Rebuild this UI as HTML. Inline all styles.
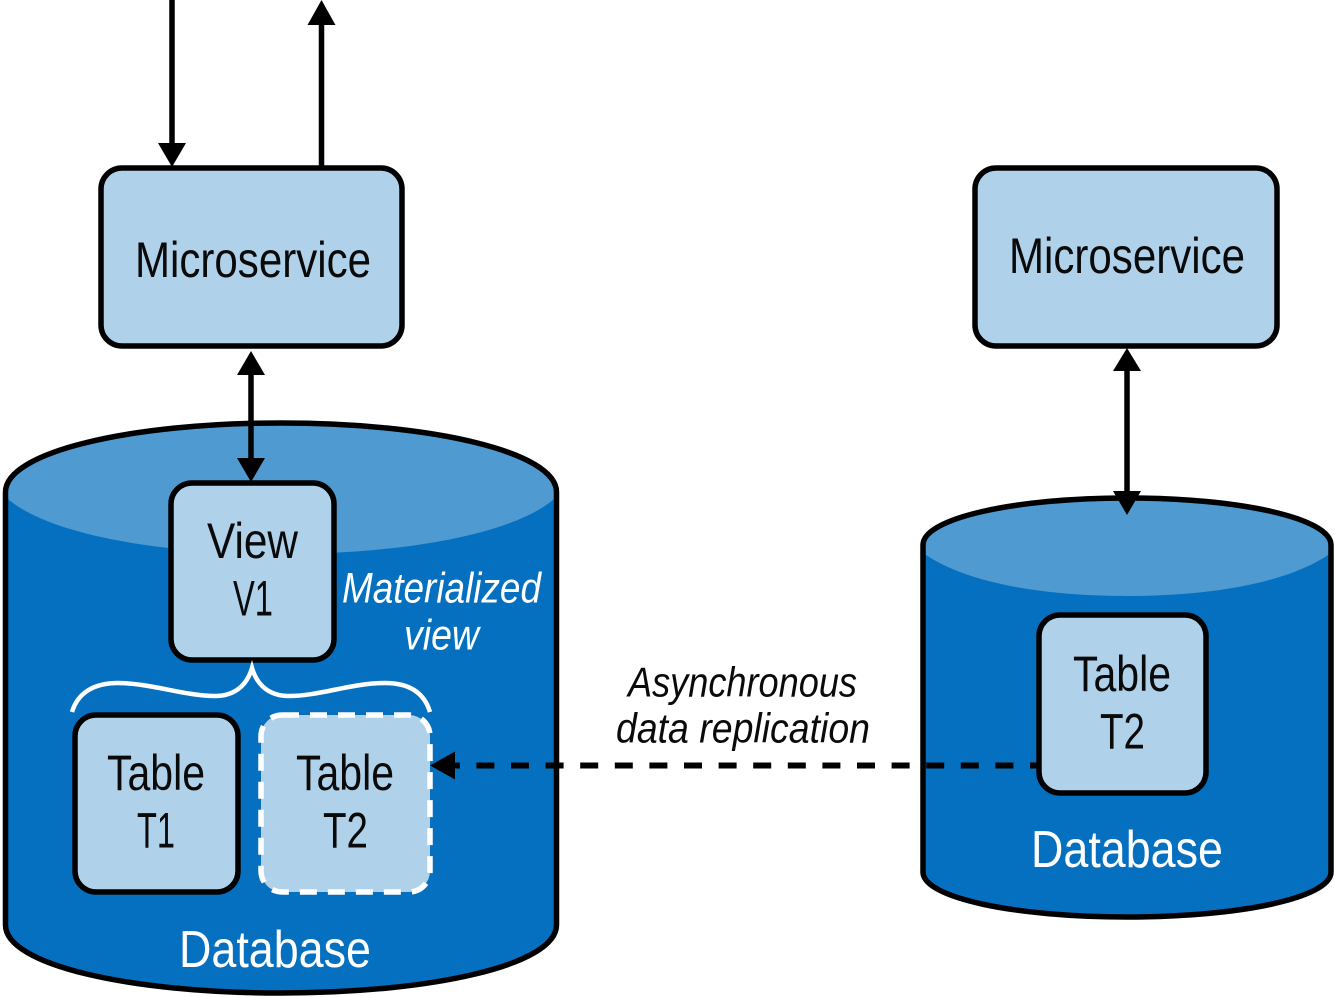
<!DOCTYPE html>
<html><head><meta charset="utf-8"><style>
html,body{margin:0;padding:0;background:#fff;width:1334px;height:997px;overflow:hidden}
svg{display:block}
text{font-family:"Liberation Sans",sans-serif}
</style></head><body>
<svg width="1334" height="997" viewBox="0 0 1334 997" xmlns="http://www.w3.org/2000/svg">
<!-- left cylinder -->
<path d="M5.500 492 C5.500 452 130 423 281 423 C432 423 556.500 452 556.500 492 V925 C556.500 965 432 993 281 993 C130 993 5.500 965 5.500 925 Z" fill="#0670c0"/>
<path d="M5.500 492 C5.500 452 130 423 281 423 C432 423 556.500 452 556.500 492 L556.500 497 C515 535 400 554 281 554 C162 554 47 535 5.500 497 Z" fill="#4f9ad0"/>
<path d="M5.500 492 C5.500 452 130 423 281 423 C432 423 556.500 452 556.500 492 V925 C556.500 965 432 993 281 993 C130 993 5.500 965 5.500 925 Z" fill="none" stroke="#000" stroke-width="5.5"/>
<!-- right cylinder -->
<path d="M923 545 C923 518 1015 498 1127 498 C1239 498 1331 518 1331 545 V872 C1331 898 1239 917 1127 917 C1015 917 923 898 923 872 Z" fill="#0670c0"/>
<path d="M923 545 C923 518 1015 498 1127 498 C1239 498 1331 518 1331 545 L1331 553 C1290 582 1215 596 1127 596 C1039 596 964 582 923 553 Z" fill="#4f9ad0"/>
<path d="M923 545 C923 518 1015 498 1127 498 C1239 498 1331 518 1331 545 V872 C1331 898 1239 917 1127 917 C1015 917 923 898 923 872 Z" fill="none" stroke="#000" stroke-width="5.5"/>
<!-- arrows -->
<g stroke="#000" stroke-width="5.5" fill="none">
<line x1="172" y1="0" x2="172" y2="150"/>
<line x1="321.500" y1="22" x2="321.500" y2="166"/>
<line x1="251" y1="370" x2="251" y2="462"/>
<line x1="1127" y1="368" x2="1127" y2="495"/>
<line x1="1048" y1="765.500" x2="440" y2="765.500" stroke-width="6" stroke-dasharray="18 16.600"/>
</g>
<g fill="#000">
<polygon points="158,143 186,143 172,167"/>
<polygon points="307.500,25 335.500,25 321.500,0"/>
<polygon points="237,375 265,375 251,351"/>
<polygon points="237,458 265,458 251,482"/>
<polygon points="1113,371 1141,371 1127,348"/>
<polygon points="1113,491 1141,491 1127,515"/>
<polygon points="430,765.500 455,751.500 455,779.500"/>
</g>
<!-- boxes -->
<g fill="#b0d1ea" stroke="#000" stroke-width="5.5">
<rect x="101" y="168" width="301" height="178" rx="21"/>
<rect x="975" y="168" width="302" height="178" rx="21"/>
<rect x="171" y="483" width="163" height="177" rx="21"/>
<rect x="75" y="715" width="163" height="177" rx="21"/>
<rect x="1039" y="615" width="167" height="178" rx="21"/>
</g>
<rect x="261" y="715" width="169" height="177" rx="21" fill="#b0d1ea" stroke="#fff" stroke-width="5.5" stroke-dasharray="17 11"/>
<!-- brace -->
<path d="M72 712 C78 692 95 683 118 683 C150 683 185 696 215 696 C235 696 247 685 252 668 C257 685 269 696 289 696 C319 696 352 683 385 683 C408 683 424 692 430 712" fill="none" stroke="#fff" stroke-width="4.500"/>
<!-- text -->
<g font-size="50" fill="#0a0a0a">
<text x="135" y="277" textLength="236" lengthAdjust="spacingAndGlyphs">Microservice</text>
<text x="1009" y="273" textLength="236" lengthAdjust="spacingAndGlyphs">Microservice</text>
<text x="207" y="558" textLength="91" lengthAdjust="spacingAndGlyphs">View</text>
<text x="233" y="615.500" textLength="40" lengthAdjust="spacingAndGlyphs">V1</text>
<text x="107" y="790" textLength="98" lengthAdjust="spacingAndGlyphs">Table</text>
<text x="137" y="847.500" textLength="38" lengthAdjust="spacingAndGlyphs">T1</text>
<text x="296" y="790" textLength="98" lengthAdjust="spacingAndGlyphs">Table</text>
<text x="323" y="847.500" textLength="45" lengthAdjust="spacingAndGlyphs">T2</text>
<text x="1073" y="691" textLength="98" lengthAdjust="spacingAndGlyphs">Table</text>
<text x="1100" y="748.500" textLength="45" lengthAdjust="spacingAndGlyphs">T2</text>
</g>
<g font-size="52" fill="#fff">
<text x="179" y="967" textLength="192" lengthAdjust="spacingAndGlyphs">Database</text>
<text x="1031" y="867" textLength="192" lengthAdjust="spacingAndGlyphs">Database</text>
</g>
<g font-size="43" font-style="italic" fill="#fff">
<text x="342" y="602.500" textLength="199" lengthAdjust="spacingAndGlyphs">Materialized</text>
<text x="404" y="649.500" textLength="75" lengthAdjust="spacingAndGlyphs">view</text>
</g>
<g font-size="42" font-style="italic" fill="#0a0a0a">
<text x="628" y="696.500" textLength="229" lengthAdjust="spacingAndGlyphs">Asynchronous</text>
<text x="616" y="742.500" textLength="254" lengthAdjust="spacingAndGlyphs">data replication</text>
</g>
</svg>
</body></html>
